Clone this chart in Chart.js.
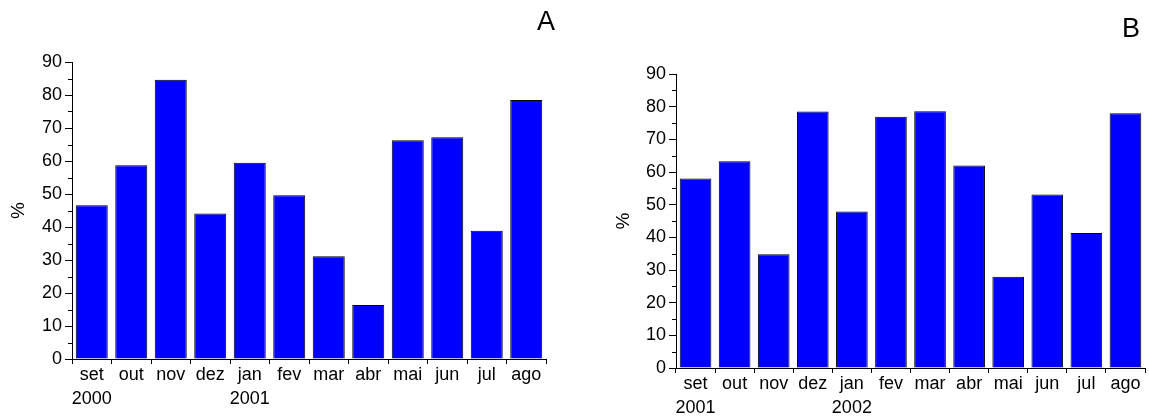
<!DOCTYPE html>
<html>
<head>
<meta charset="utf-8">
<script src="https://cdn.jsdelivr.net/npm/chart.js@4.4.1/dist/chart.umd.min.js"></script>
<style>
  html, body { margin: 0; padding: 0; background: #fff; }
  body { width: 1149px; height: 418px; position: relative; overflow: hidden;
         font-family: "Liberation Sans", Arial, sans-serif; }
  .panel { position: absolute; top: 0; height: 418px; }
  #panelA { left: 0; width: 575px; }
  #panelB { left: 600px; width: 549px; }
  .tag { position: absolute; font-size: 27px; line-height: 1; color: #000; }
</style>
</head>
<body>
<div class="panel" id="panelA"><canvas id="chartA"></canvas></div>
<div class="panel" id="panelB"><canvas id="chartB"></canvas></div>
<div class="tag" style="left:537px; top:8px;">A</div>
<div class="tag" style="left:1122px; top:15px;">B</div>

<script>
// ── data ──────────────────────────────────────────────────────────────────

const months = ["set", "out", "nov", "dez", "jan", "fev", "mar", "abr", "mai", "jun", "jul", "ago"];
const yearsA = ["2000", "", "", "", "2001", "", "", "", "", "", "", ""];
const yearsB = ["2001", "", "", "", "2002", "", "", "", "", "", "", ""];

const valuesA = [46.6, 58.7, 84.6, 44.1, 59.5, 49.6, 31.1, 16.4, 66.3, 67.2, 38.9, 78.5];
const valuesB = [58.0, 63.3, 34.8, 78.5, 47.9, 76.9, 78.6, 62.0, 27.9, 53.1, 41.3, 78.0];

const yTicks = [0, 10, 20, 30, 40, 50, 60, 70, 80, 90];
const yMinor = [5, 15, 25, 35, 45, 55, 65, 75, 85];

// ── helpers ───────────────────────────────────────────────────────────────

const FONT = "'Liberation Sans', Arial, sans-serif";

function buildLabels(years) {
  return months.map((m, i) => (years[i] ? [m, years[i]] : [m]));
}

// short outward ticks halfway between the labelled ones
const minorTicks = {
  id: "minorTicks",
  afterDraw(chart) {
    const y = chart.scales.y;
    const ctx = chart.ctx;
    ctx.save();
    ctx.strokeStyle = "#000";
    ctx.lineWidth = 1;
    ctx.beginPath();
    yMinor.forEach((v) => {
      const py = Math.round(y.getPixelForValue(v)) + 0.5;
      ctx.moveTo(y.right, py);
      ctx.lineTo(y.right - 4, py);
    });
    ctx.stroke();
    ctx.restore();
  },
};

function renderPanel(id, labels, values, opts) {
  new Chart(document.getElementById(id), {
    type: "bar",
    data: {
      labels: labels,
      datasets: [
        {
          data: values,
          backgroundColor: "#0000ff",
          borderColor: "#000",
          borderWidth: 1,
          borderSkipped: "bottom",
          categoryPercentage: 1,
          barPercentage: 0.81,
        },
      ],
    },
    options: {
      responsive: true,
      maintainAspectRatio: false,
      animation: false,
      layout: { padding: opts.padding },
      plugins: { legend: { display: false }, tooltip: { enabled: false } },
      scales: {
        x: {
          grid: {
            display: true,
            drawOnChartArea: false,
            offset: true,
            tickLength: 5,
            tickColor: "#000",
          },
          border: { display: true, color: "#000", width: 1 },
          ticks: {
            color: "#000",
            padding: 0,
            maxRotation: 0,
            autoSkip: false,
            font: { family: FONT, size: 18, lineHeight: 1.28 },
          },
          afterFit(scale) { scale.height = opts.xHeight; },
        },
        y: {
          min: 0,
          max: 90,
          afterBuildTicks(scale) { scale.ticks = yTicks.map((v) => ({ value: v })); },
          grid: {
            display: true,
            drawOnChartArea: false,
            tickLength: 7,
            tickColor: "#000",
          },
          border: { display: true, color: "#000", width: 1 },
          ticks: {
            color: "#000",
            padding: 3,
            font: { family: FONT, size: 18 },
          },
          title: {
            display: true,
            text: "%",
            color: "#000",
            font: { family: FONT, size: 19 },
            padding: { top: 3, bottom: 3 },
          },
          afterFit(scale) { scale.width = opts.yWidth; },
        },
      },
    },
    plugins: [minorTicks],
  });
}

renderPanel("chartA", buildLabels(yearsA), valuesA, {
  padding: { left: 4, right: 29, top: 62, bottom: 9 },
  yWidth: 68,
  xHeight: 50,
});

renderPanel("chartB", buildLabels(yearsB), valuesB, {
  padding: { left: 9, right: 4, top: 74, bottom: 0 },
  yWidth: 67,
  xHeight: 50,
});
</script>
</body>
</html>
